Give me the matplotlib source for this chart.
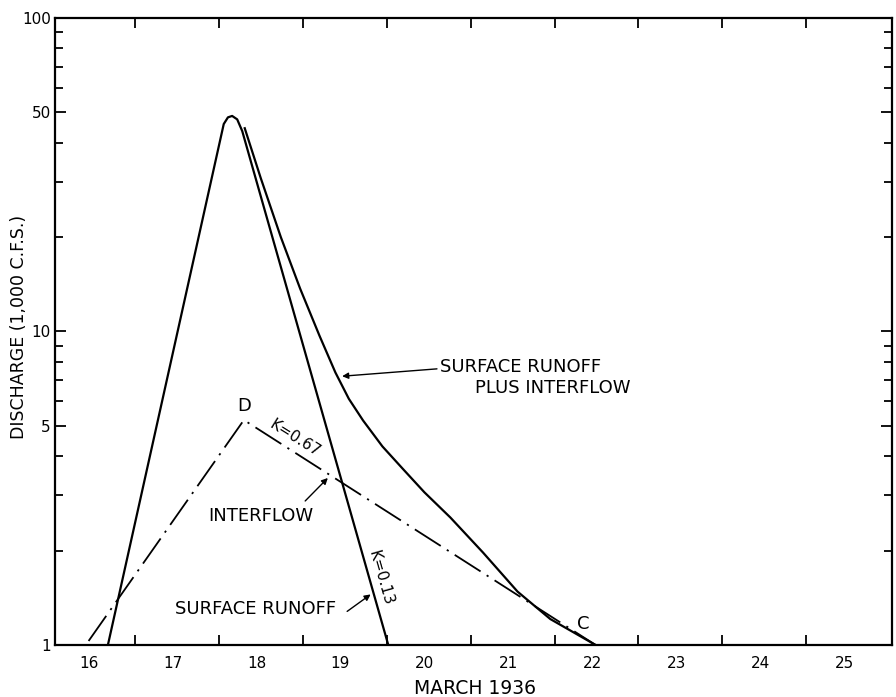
import numpy as np
import matplotlib.pyplot as plt
from matplotlib.ticker import FixedLocator, FixedFormatter, NullFormatter

# day of March 1936 (label centred on the day) and discharge in 1,000 c.f.s.
surface_day = [16.23, 17.61, 17.66, 17.71, 17.77, 17.83, 19.57]
surface_q = [1.0, 45.9, 48.2, 48.7, 47.5, 43.6, 1.0]

total_day = [17.86, 18.05, 18.29, 18.52, 18.75, 18.94, 19.10, 19.27,
             19.50, 19.75, 20.00, 20.31, 20.70, 21.11, 21.50, 22.04]
total_q = [44.5, 30.9, 20.0, 13.7, 9.7, 7.4, 6.1, 5.2,
           4.3, 3.63, 3.07, 2.55, 1.97, 1.48, 1.21, 1.0]

interflow_day = [16.0, 17.85, 22.04]
interflow_q = [1.03, 5.22, 1.0]

day_labels = list(range(16, 26))
day_ticks = [d + 0.55 for d in range(16, 25)]
q_major = [1, 5, 10, 50, 100]
q_minor = [2, 3, 4, 6, 7, 8, 9, 20, 30, 40, 60, 70, 80, 90]

fig = plt.figure(figsize=(8.96, 6.97), dpi=100)
ax = fig.add_axes([0.0614, 0.0746, 0.9341, 0.8996])

ax.plot(surface_day, surface_q, color='black', lw=1.6)
ax.plot(total_day, total_q, color='black', lw=1.6)
ax.plot(interflow_day, interflow_q, color='black', lw=1.3,
        dashes=(17, 4, 1.2, 4))

ax.set_yscale('log')
ax.set_ylim(1, 100)
ax.set_xlim(15.6, 25.57)

ax.yaxis.set_major_locator(FixedLocator(q_major))
ax.yaxis.set_major_formatter(FixedFormatter([str(v) for v in q_major]))
ax.yaxis.set_minor_locator(FixedLocator(q_minor))
ax.yaxis.set_minor_formatter(NullFormatter())

ax.xaxis.set_major_locator(FixedLocator(day_ticks))
ax.xaxis.set_major_formatter(NullFormatter())
ax.xaxis.set_minor_locator(FixedLocator(day_labels))
ax.xaxis.set_minor_formatter(FixedFormatter([str(d) for d in day_labels]))

ax.tick_params(which='both', direction='in', top=True, right=True,
               width=1.3, labelsize=11)
ax.tick_params(axis='y', which='major', length=8, pad=3)
ax.tick_params(axis='y', which='minor', length=6)
ax.tick_params(axis='x', which='major', length=7)
ax.tick_params(axis='x', which='minor', length=0, pad=8)
for s in ax.spines.values():
    s.set_linewidth(1.6)

fs = 13
ax.text(17.85, 5.79, 'D', fontsize=fs, ha='center', va='center')
ax.text(21.89, 1.17, 'C', fontsize=fs, ha='center', va='center')
ax.text(18.46, 4.58, 'K=0.67', fontsize=11, ha='center', va='center',
        rotation=-32)
ax.text(19.48, 1.64, 'K=0.13', fontsize=11, ha='center', va='center',
        rotation=-74)

ax.text(18.05, 2.58, 'INTERFLOW', fontsize=fs, ha='center', va='center')
ax.annotate('', xy=(18.85, 3.41), xytext=(18.58, 2.88),
            arrowprops=dict(arrowstyle='-|>', color='black', lw=1,
                            mutation_scale=9, shrinkA=0, shrinkB=0))

ax.text(17.99, 1.30, 'SURFACE RUNOFF', fontsize=fs, ha='center', va='center')
ax.annotate('', xy=(19.36, 1.45), xytext=(19.08, 1.28),
            arrowprops=dict(arrowstyle='-|>', color='black', lw=1,
                            mutation_scale=9, shrinkA=0, shrinkB=0))

ax.text(20.19, 7.73, 'SURFACE RUNOFF', fontsize=fs, ha='left', va='center')
ax.text(20.6, 6.58, 'PLUS INTERFLOW', fontsize=fs, ha='left', va='center')
ax.annotate('', xy=(19.02, 7.2), xytext=(20.15, 7.6),
            arrowprops=dict(arrowstyle='-|>', color='black', lw=1,
                            mutation_scale=9, shrinkA=0, shrinkB=0))

fig.text(19 / 896, 1 - 327 / 697, 'DISCHARGE (1,000 C.F.S.)', fontsize=12.5,
         rotation=90, ha='center', va='center')
fig.text(475 / 896, 1 - 688 / 697, 'MARCH 1936', fontsize=13.5,
         ha='center', va='center')

fig.savefig('out.png', dpi=100)
